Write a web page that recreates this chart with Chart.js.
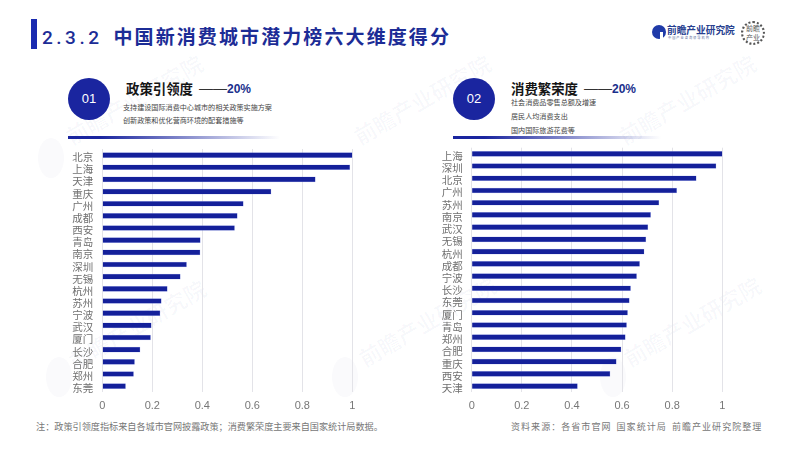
<!DOCTYPE html>
<html lang="zh">
<head>
<meta charset="utf-8">
<title>2.3.2 中国新消费城市潜力榜六大维度得分</title>
<script src="https://cdn.jsdelivr.net/npm/chart.js@4/dist/chart.umd.min.js"></script>
<style>
  html, body { margin: 0; padding: 0; background: #fff; }
  body { width: 799px; height: 450px; position: relative; overflow: hidden;
         font-family: "Noto Sans CJK SC", sans-serif; }
  .abs { position: absolute; white-space: nowrap; }
  .chart { position: absolute; top: 140px; width: 330px; height: 279.4px; }
  .mark { position: absolute; white-space: nowrap; color: rgba(30,45,130,0.032);
          font-size: 22px; line-height: 24px; font-weight: 700; transform-origin: left center; transform: rotate(-30deg); }
  .blob { position: absolute; width: 26px; height: 40px; border-radius: 50%; background: rgba(30,45,130,0.025); }
  .circle { position: absolute; top: 78px; width: 42px; height: 42px; border-radius: 50%;
            background: #1a259f; color: #fff; font: 13px/42px "Liberation Sans", sans-serif;
            text-align: center; }
  .rule { position: absolute; top: 135.5px; height: 3px; width: 212px;
          background: linear-gradient(to right, #1a259f, #1a259f 15%, rgba(26,37,159,0)); }
  .head { font-size: 13.4px; font-weight: 700; color: #151515; top: 78px; }
  .share { color: #1a2f8c; top: 79px; line-height: 18px; font-family: "Liberation Sans", sans-serif; }
  .share i { font-style: normal; font-size: 14px; font-weight: 400; color: #333; }
  .share b { font-size: 12px; }
  .sub { font-size: 7.1px; color: #444; }
</style>
</head>
<body>
<div class="blob" style="left:38px;top:138px"></div>
<div class="blob" style="left:46px;top:357px"></div>
<div class="blob" style="left:332px;top:357px"></div>
<div class="blob" style="left:600px;top:357px"></div>
<div class="mark" style="left:67px;top:125px">前瞻产业研究院</div>
<div class="mark" style="left:355px;top:125px">前瞻产业研究院</div>
<div class="mark" style="left:620px;top:125px">前瞻产业研究院</div>
<div class="mark" style="left:70px;top:350px">前瞻产业研究院</div>
<div class="mark" style="left:360px;top:347px">前瞻产业研究院</div>
<div class="mark" style="left:625px;top:347px">前瞻产业研究院</div>

<div class="abs" style="left:31px;top:19px;width:6px;height:30px;background:#1a2bb0"></div>
<div class="abs" style="left:42px;top:22px;font-size:19px;line-height:27px;font-weight:700;color:#1c2c96;letter-spacing:2.1px"><span style="font-family:'Roboto';font-weight:500;letter-spacing:3.5px;margin-right:11px">2.3.2</span>中国新消费城市潜力榜六大维度得分</div>

<div class="abs" style="left:652px;top:25px;width:14px;height:14px;border-radius:50%;background:#1f3aa8"></div>
<div class="abs" style="left:660px;top:32px;width:3px;height:8px;background:#fff"></div>
<div class="abs" style="left:667px;top:24px;font-size:9.7px;line-height:13px;font-weight:700;color:#27408f">前瞻产业研究院</div>
<div class="abs" style="left:668px;top:36px;font-size:3.2px;line-height:4px;color:#5a6a9a;letter-spacing:1px">中国产业咨询领导机构</div>
<div class="abs" style="left:741px;top:21px;width:18px;height:18px;padding:1px;border-radius:50%;border:2px dotted #555;text-align:center;font-size:7px;line-height:9px;color:#555;white-space:normal">前瞻产业</div>

<div class="circle" style="left:68px">01</div>
<div class="abs head" style="left:126px">政策引领度</div>
<div class="abs share" style="left:199px"><i>——</i><b>20%</b></div>
<div class="abs sub" style="left:123px;top:102px">支持建设国际消费中心城市的相关政策实施方案</div>
<div class="abs sub" style="left:123px;top:115px">创新政策和优化营商环境的配套措施等</div>
<div class="rule" style="left:68px"></div>

<div class="circle" style="left:453px">02</div>
<div class="abs head" style="left:511px">消费繁荣度</div>
<div class="abs share" style="left:584px"><i>——</i><b>20%</b></div>
<div class="abs sub" style="left:511px;top:97px">社会消费品零售总额及增速</div>
<div class="abs sub" style="left:511px;top:111px">居民人均消费支出</div>
<div class="abs sub" style="left:511px;top:125px">国内国际旅游花费等</div>
<div class="rule" style="left:453px;width:208px"></div>

<div class="chart" style="left:50px"><canvas id="chartPolicy"></canvas></div>
<div class="chart" style="left:420px"><canvas id="chartConsume"></canvas></div>

<div class="abs" style="left:36px;top:420px;font-size:9.15px;line-height:13px;color:#777">注：政策引领度指标来自各城市官网披露政策；消费繁荣度主要来自国家统计局数据。</div>
<div class="abs" style="left:511px;top:420px;font-size:9px;line-height:13px;color:#777;letter-spacing:1.05px;word-spacing:2px">资料来源：各省市官网 国家统计局 前瞻产业研究院整理</div>

<script>
// -- data
const policyCities = ["北京","上海","天津","重庆","广州","成都","西安","青岛","南京","深圳","无锡","杭州","苏州","宁波","武汉","厦门","长沙","合肥","郑州","东莞"];
const policyScores = [1,0.99,0.852,0.675,0.564,0.54,0.529,0.392,0.391,0.337,0.312,0.26,0.236,0.231,0.196,0.193,0.151,0.129,0.125,0.093];
const consumeCities = ["上海","深圳","北京","广州","苏州","南京","武汉","无锡","杭州","成都","宁波","长沙","东莞","厦门","青岛","郑州","合肥","重庆","西安","天津"];
const consumeScores = [1,0.975,0.896,0.818,0.747,0.714,0.703,0.695,0.688,0.67,0.658,0.634,0.629,0.622,0.618,0.613,0.596,0.577,0.552,0.422];
const xTicks = [0,0.2,0.4,0.6,0.8,1];

function barChart(id, labels, values, axisWidth, top, right) {
  return new Chart(document.getElementById(id).getContext("2d"), {
    type: "bar",
    data: {
      labels: labels,
      datasets: [{ data: values, backgroundColor: "#14209a", borderColor: "rgba(120,135,225,0.55)",
                   borderWidth: 0.5, barThickness: 5 }],
    },
    options: {
      indexAxis: "y",
      responsive: true,
      maintainAspectRatio: false,
      animation: false,
      layout: { padding: { top: top, right: right, left: 0, bottom: 0 } },
      plugins: { legend: { display: false }, tooltip: { enabled: false } },
      scales: {
        x: {
          min: 0, max: 1,
          afterBuildTicks: (s) => { s.ticks = xTicks.map((v) => ({ value: v })); },
          afterFit: (s) => { s.paddingLeft = 0; s.paddingRight = 0; },
          grid: { color: "#e3e3e8", lineWidth: 1, drawTicks: false },
          border: { display: false },
          ticks: { color: "#777", padding: 7, maxRotation: 0, font: { family: "Liberation Sans", size: 11 },
                   callback: (v) => String(v) },
        },
        y: {
          // first label would otherwise push the plot area down
          afterFit: (s) => { s.width = axisWidth; s.paddingTop = 0; s.paddingBottom = 0; },
          grid: { display: false, drawTicks: false },
          border: { display: false },
          ticks: { color: "#707070", padding: 9, labelOffset: 2, autoSkip: false,
                   font: { family: "Noto Sans CJK SC", size: 10.5 } },
        },
      },
    },
  });
}

barChart("chartPolicy", policyCities, policyScores, 52.3, 9, 27.7);
barChart("chartConsume", consumeCities, consumeScores, 51.7, 7.7, 27.7);
</script>
</body>
</html>
